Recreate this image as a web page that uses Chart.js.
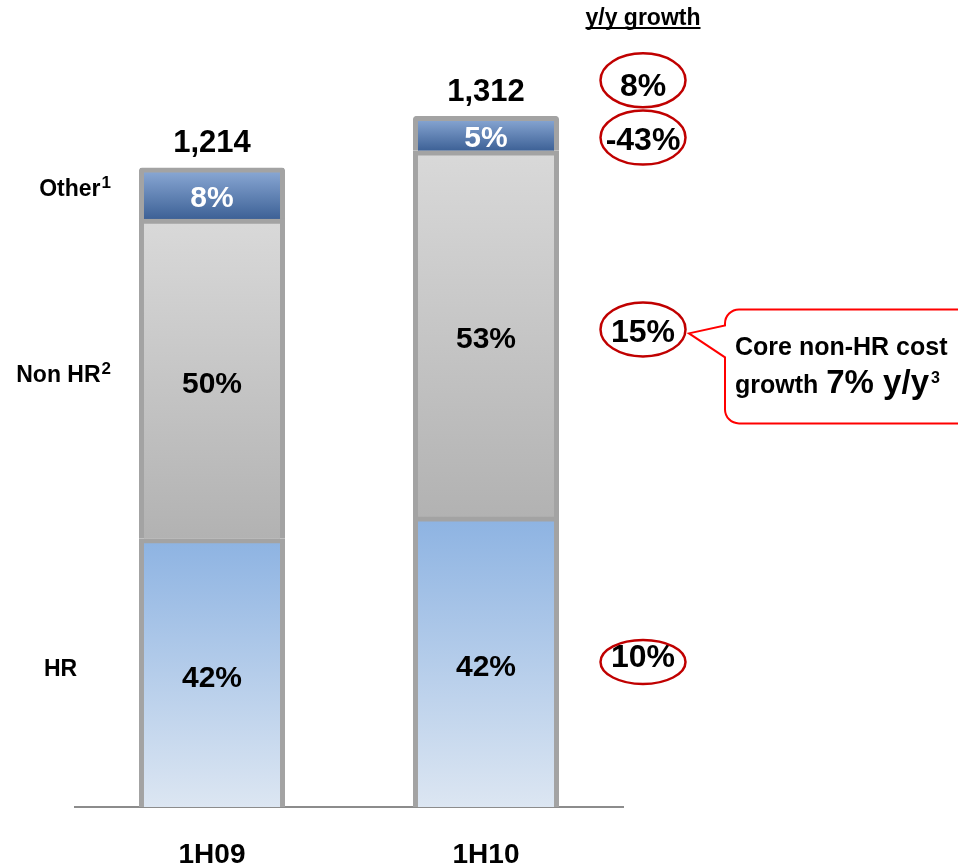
<!DOCTYPE html>
<html>
<head>
<meta charset="utf-8">
<script src="https://cdn.jsdelivr.net/npm/chart.js@4/dist/chart.umd.min.js"></script>
<style>
  html, body { margin: 0; padding: 0; background: #ffffff; }
  #wrap { width: 958px; height: 866px; position: relative; }
</style>
</head>
<body>
<div id="wrap"><canvas id="c" width="958" height="866"></canvas></div>
<script>
// Cost base by half-year, split into HR / Non HR / Other shares
const categories = ['1H09', '1H10'];
const totals = [1214, 1312];
const hrShare = [42, 42];
const nonHrShare = [50, 53];
const otherShare = [8, 5];
const segmentNames = ['HR', 'Non HR', 'Other'];
const segmentNotes = ['', '2', '1'];

// y/y growth of the latest half-year, per segment and for the total
const growthHr = '10%';
const growthNonHr = '15%';
const growthOther = '-43%';
const growthTotal = '8%';

const FONT = "'Liberation Sans', Arial, Helvetica, sans-serif";

const shares = [hrShare, nonHrShare, otherShare];
const segmentValues = shares.map(s => totals.map((t, i) => t * s[i] / 100));

const fills = [
  ['#8db3e2', '#dce6f2'],   // HR: light blue fading down
  ['#d9d9d9', '#b2b2b2'],   // Non HR: grey
  ['#8eacd8', '#3d6196']    // Other: darker blue
];

function segmentGradient(ctx, stops) {
  const chart = ctx.chart;
  if (!chart.chartArea || ctx.dataIndex === undefined) return stops[0];
  const ys = chart.scales.y;
  const di = ctx.datasetIndex, i = ctx.dataIndex;
  let start = 0;
  for (let d = 0; d < di; d++) start += chart.data.datasets[d].data[i];
  const end = start + chart.data.datasets[di].data[i];
  const g = chart.ctx.createLinearGradient(0, ys.getPixelForValue(end), 0, ys.getPixelForValue(start));
  g.addColorStop(0, stops[0]);
  g.addColorStop(1, stops[1]);
  return g;
}

function textWithNote(ctx, text, note, x, y, size, align) {
  ctx.font = 'bold ' + size + 'px ' + FONT;
  const w = ctx.measureText(text).width;
  const noteSize = Math.round(size * 0.72);
  ctx.font = 'bold ' + noteSize + 'px ' + FONT;
  const nw = note ? ctx.measureText(note).width + 1 : 0;
  let x0 = x;
  if (align === 'right') x0 = x - w - nw;
  if (align === 'center') x0 = x - (w + nw) / 2;
  ctx.textAlign = 'left';
  ctx.textBaseline = 'middle';
  ctx.font = 'bold ' + size + 'px ' + FONT;
  ctx.fillText(text, x0, y);
  if (note) {
    ctx.font = 'bold ' + noteSize + 'px ' + FONT;
    ctx.fillText(note, x0 + w + 1, y - size * 0.28);
  }
}

const overlay = {
  id: 'overlay',
  afterDatasetsDraw(chart) {
    const ctx = chart.ctx;
    const area = chart.chartArea;
    const metas = chart.data.datasets.map((d, di) => chart.getDatasetMeta(di));
    const BORDER = 5;
    const mid = b => (b.y + BORDER + b.base) / 2;
    ctx.save();

    // share labels inside each segment
    metas.forEach((meta, di) => {
      meta.data.forEach((bar, i) => {
        ctx.fillStyle = di === 2 ? '#ffffff' : '#000000';
        ctx.font = 'bold 30px ' + FONT;
        ctx.textAlign = 'center';
        ctx.textBaseline = 'middle';
        ctx.fillText(shares[di][i] + '%', bar.x, mid(bar) + 3);
      });
    });

    // totals above each stack
    ctx.fillStyle = '#000';
    const top = metas[metas.length - 1].data;
    top.forEach((bar, i) => {
      ctx.font = 'bold 31px ' + FONT;
      ctx.textAlign = 'center';
      ctx.textBaseline = 'middle';
      ctx.fillText(totals[i].toLocaleString('en-US'), bar.x, bar.y - 24);
    });

    // segment names on the left, next to the first stack
    const first = metas.map(m => m.data[0]);
    const nameX = [44, 111, 111];
    const nameAlign = ['left', 'right', 'right'];
    first.forEach((bar, di) => {
      ctx.fillStyle = '#000';
      textWithNote(ctx, segmentNames[di], segmentNotes[di], nameX[di], mid(bar) - 6, 23, nameAlign[di]);
    });

    // y/y growth column
    const gx = area.right + 20;
    ctx.font = 'bold 23px ' + FONT;
    ctx.textAlign = 'center';
    ctx.textBaseline = 'alphabetic';
    ctx.fillStyle = '#000';
    const head = 'y/y growth';
    const hw = ctx.measureText(head).width;
    ctx.fillText(head, gx, 25);
    ctx.fillRect(gx - hw / 2, 27, hw, 2);

    const last = metas.map(m => m.data[m.data.length - 1]);
    const rows = [
      { text: growthTotal, anchor: last[2].y - 25, dt: -4, de: -11, ry: 27 },
      { text: growthOther, anchor: mid(last[2]), dt: 5, de: 1.5, ry: 27 },
      { text: growthNonHr, anchor: mid(last[1]), dt: -3, de: -7, ry: 27 },
      { text: growthHr, anchor: mid(last[0]), dt: -6, de: -2.5, ry: 22 }
    ];
    rows.forEach(r => {
      ctx.fillStyle = '#000';
      ctx.font = 'bold 32px ' + FONT;
      ctx.textAlign = 'center';
      ctx.textBaseline = 'middle';
      ctx.fillText(r.text, gx, r.anchor + r.dt);
      ctx.beginPath();
      ctx.ellipse(gx, r.anchor + r.de, 42.5, r.ry, 0, 0, Math.PI * 2);
      ctx.strokeStyle = '#c00000';
      ctx.lineWidth = 2.5;
      ctx.stroke();
    });

    // callout next to the Non HR growth figure
    const ey = rows[2].anchor + rows[2].de;
    const tipX = gx + 46, tipY = ey + 4;
    const bx = gx + 82, bTop = ey - 20, bBot = ey + 94, bRight = chart.width + 20, rad = 14;
    ctx.beginPath();
    ctx.moveTo(bx, ey - 4);
    ctx.lineTo(bx, bTop + rad);
    ctx.arcTo(bx, bTop, bx + rad, bTop, rad);
    ctx.lineTo(bRight, bTop);
    ctx.lineTo(bRight, bBot);
    ctx.lineTo(bx + rad, bBot);
    ctx.arcTo(bx, bBot, bx, bBot - rad, rad);
    ctx.lineTo(bx, ey + 28);
    ctx.lineTo(tipX, tipY);
    ctx.closePath();
    ctx.fillStyle = '#ffffff';
    ctx.fill();
    ctx.strokeStyle = '#ff0000';
    ctx.lineWidth = 2;
    ctx.stroke();

    ctx.fillStyle = '#000';
    ctx.textAlign = 'left';
    ctx.textBaseline = 'alphabetic';
    const tx = bx + 10;
    ctx.font = 'bold 25px ' + FONT;
    ctx.fillText('Core non-HR cost', tx, ey + 26);
    ctx.fillText('growth ', tx, ey + 64);
    let cx = tx + ctx.measureText('growth ').width + 1;
    ctx.font = 'bold 33px ' + FONT;
    ctx.fillText('7% y/y', cx, ey + 64);
    cx += ctx.measureText('7% y/y').width + 2;
    ctx.font = 'bold 16px ' + FONT;
    ctx.fillText('3', cx, ey + 54);

    ctx.restore();
  }
};

const datasets = segmentNames.map((name, di) => ({
  label: name,
  data: segmentValues[di],
  backgroundColor: c => segmentGradient(c, fills[di]),
  borderColor: '#a3a3a3',
  borderWidth: { top: 5, left: 5, right: 5, bottom: 0 },
  borderSkipped: false,
  inflateAmount: 0.4,
  borderRadius: di === 2 ? { topLeft: 3, topRight: 3, bottomLeft: 0, bottomRight: 0 } : 0,
  categoryPercentage: 1,
  barPercentage: 0.53
}));

new Chart(document.getElementById('c'), {
  type: 'bar',
  data: { labels: categories, datasets },
  options: {
    responsive: false,
    animation: false,
    events: [],
    layout: { padding: { top: 70, left: 75, right: 335, bottom: 0 } },
    plugins: { legend: { display: false }, tooltip: { enabled: false } },
    scales: {
      x: {
        stacked: true,
        z: 1,
        grid: { display: false, drawTicks: false },
        border: { display: true, color: '#8c8c8c', width: 2 },
        ticks: { color: '#000', font: { family: FONT, size: 28, weight: 'bold' }, padding: 31 },
        afterFit: s => { s.height = 59; }
      },
      y: { stacked: true, display: false, min: 0, max: 1400 }
    }
  },
  plugins: [overlay]
});
</script>
</body>
</html>
